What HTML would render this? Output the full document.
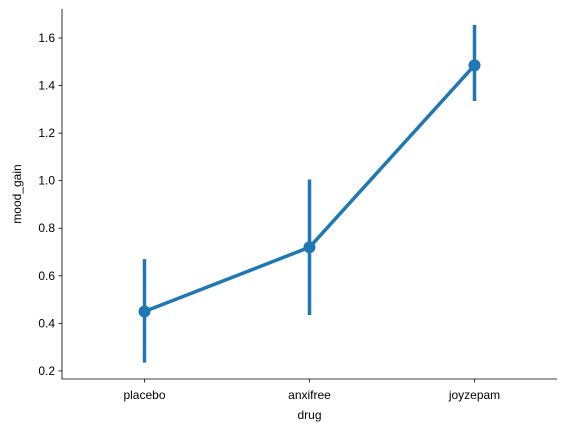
<!DOCTYPE html>
<html><head><meta charset="utf-8"><style>
body{margin:0;background:#fff}
svg text{font-family:"Liberation Sans","DejaVu Sans",sans-serif;font-size:12px;fill:#000}
</style></head><body>
<svg id="chart" width="567" height="432"></svg>
<script>
const categories=["placebo","anxifree","joyzepam"];
const means=[0.45,0.72,1.485];
const ciLow=[0.235,0.435,1.335];
const ciHigh=[0.67,1.005,1.655];
const yTicks=[0.2,0.4,0.6,0.8,1.0,1.2,1.4,1.6];
const yTickLabels=["0.2","0.4","0.6","0.8","1.0","1.2","1.4","1.6"];

const L=62,R=557,T=9,B=379,yMin=0.166,yMax=1.722;
const xs=i=>L+(i+0.5)*(R-L)/categories.length;
const ys=v=>B-(v-yMin)/(yMax-yMin)*(B-T);
const svg=document.getElementById('chart');
const NS="http://www.w3.org/2000/svg";
function mk(tag,attrs,parent){const e=document.createElementNS(NS,tag);for(const k in attrs)e.setAttribute(k,attrs[k]);(parent||svg).appendChild(e);return e;}
const C="#1f77b4";

yTicks.forEach((v,i)=>{
  const g=mk('g',{});
  
  
  mk('line',{x1:L-3.5,x2:L,y1:ys(v),y2:ys(v),stroke:"#000","stroke-width":0.8},g);
  const t=mk('text',{x:L-7,y:ys(v)+4,"text-anchor":"end"},g);t.textContent=yTickLabels[i];
});
categories.forEach((c,i)=>{
  const g=mk('g',{});
  
  
  mk('line',{x1:xs(i),x2:xs(i),y1:B,y2:B+3.5,stroke:"#000","stroke-width":0.8},g);
  const t=mk('text',{x:xs(i),y:B+20,"text-anchor":"middle"},g);t.textContent=c;
});
const lx=mk('text',{x:(L+R)/2,y:419,"text-anchor":"middle"});lx.textContent="drug";


const ly=mk('text',{x:21,y:(T+B)/2,"text-anchor":"middle",transform:`rotate(-90 21 ${(T+B)/2})`});ly.textContent="mood_gain";



categories.forEach((c,i)=>{
  const e=mk('line',{x1:xs(i),x2:xs(i),y1:ys(ciLow[i]),y2:ys(ciHigh[i]),stroke:C,"stroke-width":3.5});
  
  
});
const pl=mk('polyline',{points:means.map((v,i)=>xs(i)+","+ys(v)).join(" "),fill:"none",stroke:C,"stroke-width":3.5,"stroke-linejoin":"round"});


means.forEach((v,i)=>{
  const p=mk('circle',{cx:xs(i),cy:ys(v),r:6,fill:C});
  
  
});
const ax=mk('path',{d:`M${L},${T}V${B}H${R}`,fill:"none",stroke:"#000","stroke-width":0.8});


</script>
</body></html>
